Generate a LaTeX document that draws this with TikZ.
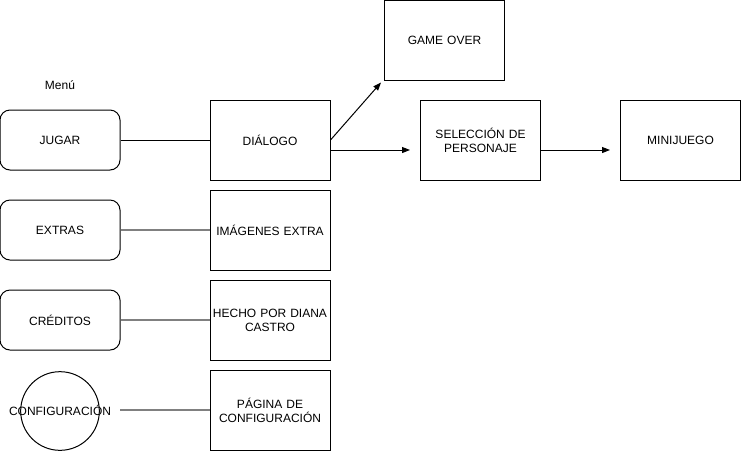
\documentclass[tikz,border=0pt]{standalone}
\usepackage{fontspec}
\setmainfont{Liberation Sans}
\usetikzlibrary{arrows.meta}
\definecolor{linegray}{HTML}{808080}
\begin{document}
\begin{tikzpicture}[x=0.75pt,y=-0.75pt,
  font=\fontsize{9}{10.5}\selectfont,
  box/.style={draw=black,line width=0.75pt,minimum width=90pt,minimum height=60pt,inner sep=0pt,align=center,text width=88pt},
  menubox/.style={draw=black,line width=0.75pt,rounded corners=7.5pt,minimum width=90pt,minimum height=45pt,inner sep=0pt,align=center},
  plainlink/.style={draw=black,line width=0.75pt},
  graylink/.style={draw=linegray,line width=1.5pt},
  arrowlink/.style={draw=black,line width=0.75pt,-{Triangle[length=6pt,width=4.5pt]}}]
\useasboundingbox (0,0) rectangle (741,451);
\node (menu) at (60,85) {Menú};
\node[menubox] (jugar) at (60,140) {JUGAR};
\node[menubox] (extras) at (60,230) {EXTRAS};
\node[menubox] (creditos) at (60,320) {CRÉDITOS};
\node[draw=black,line width=0.75pt,circle,minimum size=59pt,inner sep=0pt] (confcirc) at (60,411) {};
\node (conf) at (60,410) {CONFIGURACIÓN};
\coordinate (confend) at (120,410);
\node[box] (dialogo) at (270,140) {DIÁLOGO};
\node[box] (imagenes) at (270,230) {IMÁGENES EXTRA};
\node[box] (hecho) at (270,320) {HECHO POR DIANA\\CASTRO};
\node[box] (pagina) at (270,410) {PÁGINA DE\\CONFIGURACIÓN};
\node[box] (gameover) at (444.5,40) {GAME OVER};
\node[box] (seleccion) at (480.5,140) {SELECCIÓN DE\\PERSONAJE};
\node[box] (minijuego) at (680.5,140) {MINIJUEGO};
\draw[plainlink] (jugar.east) -- (dialogo.west);
\draw[graylink] (extras.east) -- (imagenes.west);
\draw[graylink] (creditos.east) -- (hecho.west);
\draw[graylink] (confend) -- (pagina.west);
\draw[arrowlink] (dialogo.east) -- ([xshift=-2.25pt,yshift=-1.5pt]gameover.south west);
\draw[arrowlink] ([yshift=-7.5pt]dialogo.east) -- ([yshift=-7.5pt,xshift=-7.5pt]seleccion.west);
\draw[arrowlink] ([yshift=-7.5pt]seleccion.east) -- ([yshift=-7.5pt,xshift=-7.5pt]minijuego.west);
\end{tikzpicture}
\end{document}
